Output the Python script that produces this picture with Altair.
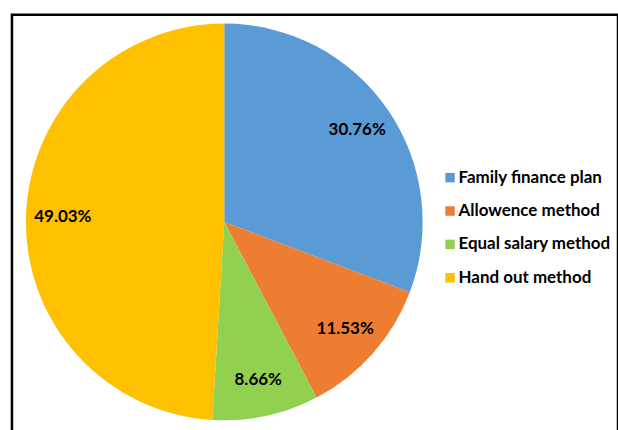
import altair as alt
import pandas as pd

categories = ["Family finance plan", "Allowence method", "Equal salary method", "Hand out method"]
shares = [30.76, 11.53, 8.66, 49.03]
labels = ["30.76%", "11.53%", "8.66%", "49.03%"]
colors = ["#5B9BD5", "#ED7D31", "#92D050", "#FFC000"]

df = pd.DataFrame({"category": categories, "share": shares, "label": labels,
                   "order": list(range(len(categories)))})

FONT = "Lato"
cx, cy = 213, 208

base = alt.Chart(df).encode(
    theta=alt.Theta("share:Q", stack=True),
    order=alt.Order("order:Q"),
)

arc = base.mark_arc(outerRadius=199).encode(
    x=alt.value(cx), y=alt.value(cy),
    color=alt.Color(
        "category:N",
        scale=alt.Scale(domain=categories, range=colors),
        sort=categories,
        legend=alt.Legend(
            title=None, orient="none", legendX=431, legendY=155, padding=0,
            symbolType="square", symbolSize=90, symbolStrokeWidth=0,
            labelFont=FONT, labelFontSize=17, labelFontWeight="bold",
            labelColor="#000000", rowPadding=15.5, symbolOffset=0, labelOffset=0,
        ),
    ),
)

text = base.mark_text(radius=162, font=FONT, fontSize=17, fontWeight="bold",
                      color="#000000").encode(
    x=alt.value(cx), y=alt.value(cy), text="label:N"
)

chart = (arc + text).properties(
    width=608, height=418,
    padding={"left": 12, "top": 14, "right": 0, "bottom": 0},
).configure_view(stroke="#000000", strokeWidth=2.5)

chart.save("out.html", embed_options={"renderer": "svg", "actions": False})
